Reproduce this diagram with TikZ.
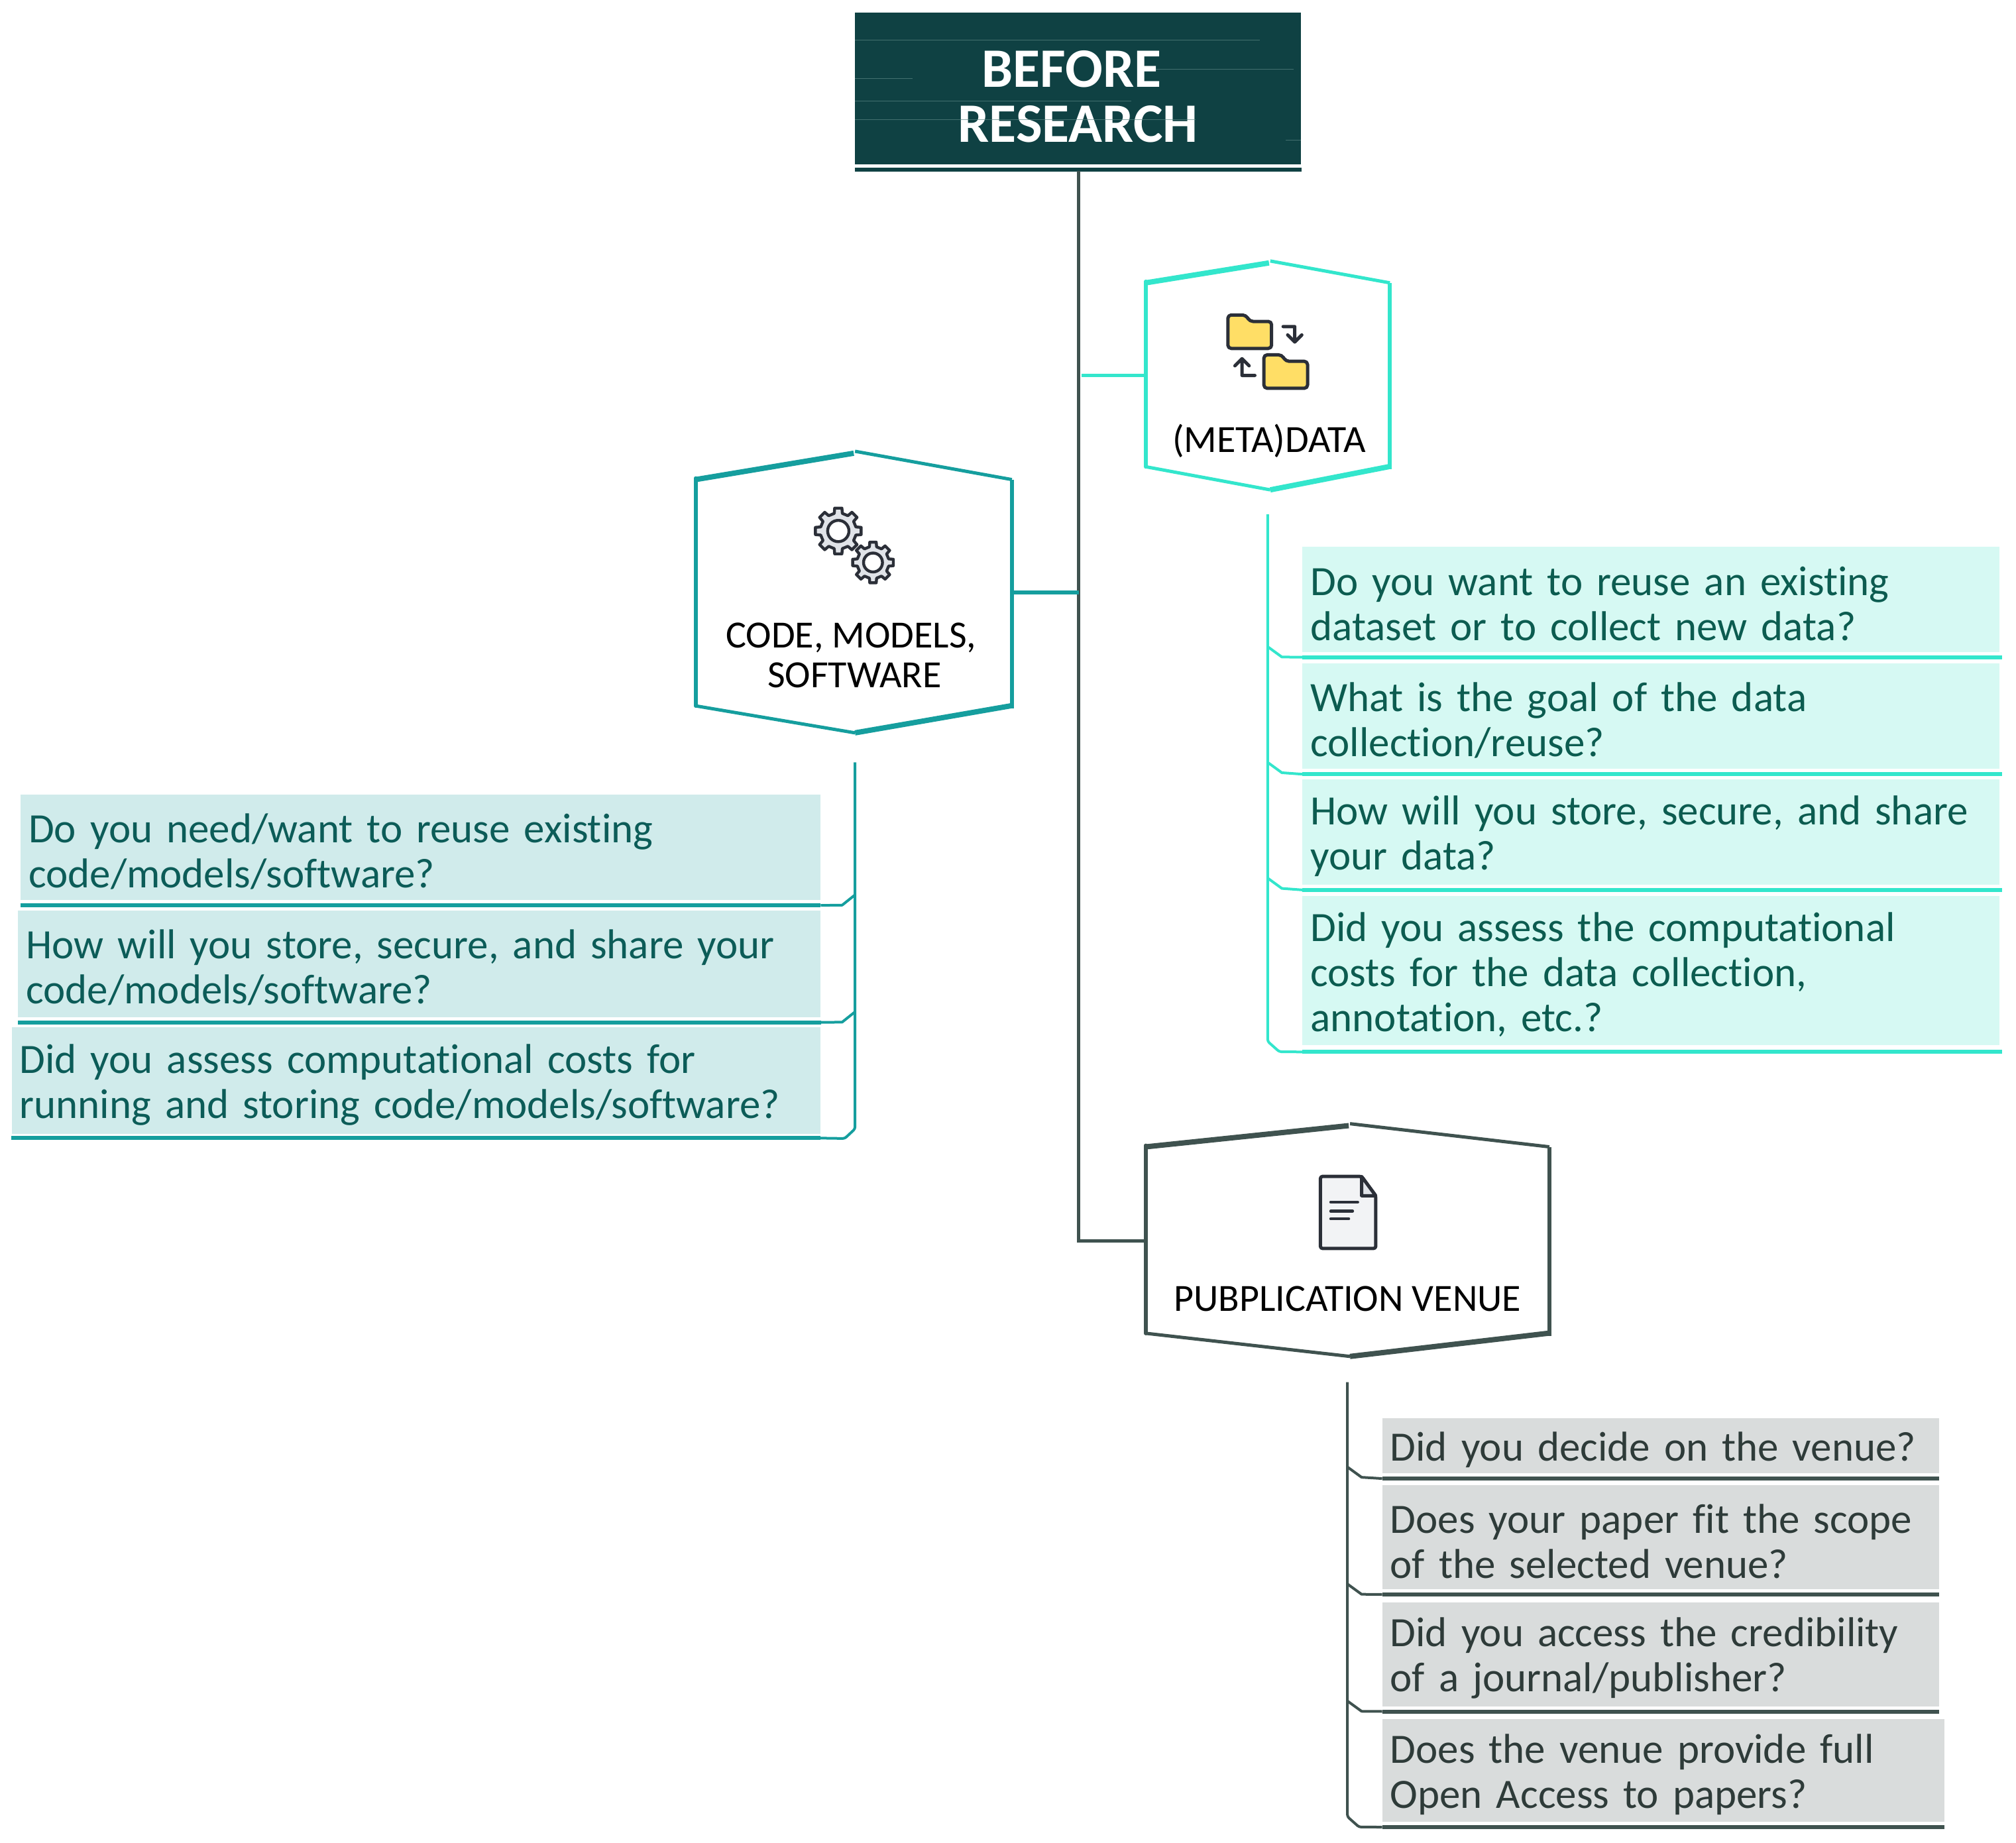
\documentclass[tikz,border=0pt]{standalone}
\usepackage{fontspec}
\setmainfont[Ligatures=NoCommon]{Carlito}
\usetikzlibrary{calc}
\definecolor{titlefill}{HTML}{0F4143}
\definecolor{streak}{HTML}{5A8583}
\definecolor{trunkc}{HTML}{3F524F}
\definecolor{codec}{HTML}{159E9E}
\definecolor{metac}{HTML}{33E6CC}
\definecolor{codebg}{HTML}{D0EBEB}
\definecolor{metabg}{HTML}{D6F9F3}
\definecolor{pubbg}{HTML}{D9DCDC}
\definecolor{qcode}{HTML}{0C5C58}
\definecolor{qmeta}{HTML}{0C5C50}
\definecolor{qpub}{HTML}{2E3B39}
\definecolor{inkc}{HTML}{2B2F38}
\definecolor{folderc}{HTML}{FFDE66}
\definecolor{gearc}{HTML}{E0E3E8}
\definecolor{docc}{HTML}{F2F3F5}
\tikzset{
  qbox/.style={anchor=north west,inner xsep=12pt,inner ysep=0pt,align=left,font=\fontsize{63}{68}\selectfont,execute at begin node={\rule{0pt}{56pt}}},
  hexlabel/.style={inner sep=0pt,align=center,text=black,font=\fontsize{58}{60}\selectfont},
  anchorbox/.style={inner sep=0pt,minimum width=#1,minimum height=10pt},
  icon/.style={draw=inkc,line width=5pt,line join=round,line cap=round},
  branch/.style={line width=4pt,line join=round},
  rule/.style={line width=6pt},
}
% left right centre-x apex-top shoulder-top shoulder-bottom apex-bottom colour
\newcommand{\sketchhex}[8]{%
  \draw[#8,line width=6pt,line cap=round] (#1,#5-1) -- (#1,#6);
  \draw[#8,line width=8pt] (#1,#5) -- (#3-1,#4+0.5);
  \draw[#8,line width=5pt] (#3,#4-1) -- (#2,#5);
  \draw[#8,line width=5.5pt] (#2,#5) -- (#2,#6+2);
  \draw[#8,line width=8pt] (#2-1,#6) -- (#3,#7);
  \draw[#8,line width=5pt] (#3,#7) -- (#1,#6);
}
\newcommand{\gearicon}[3]{% cx cy radius
  \draw[icon,fill=gearc,line width=4.4pt,shift={(#1,#2)}]
    (-13:#3*0.78) \foreach \a in {0,45,...,315}{
      -- (\a-13:#3*0.78) -- (\a-9:#3) -- (\a+9:#3) -- (\a+13:#3*0.78)
    } -- cycle;
  \draw[icon,fill=white,line width=4.4pt] (#1,#2) circle[radius=#3*0.46];
}
\newcommand{\foldericon}[2]{% left top
  \draw[icon,fill=folderc,rounded corners=5pt] (#1,#2) -- (#1+14,#2) -- (#1+17,#2+5) -- (#1+34,#2+5) -- (#1+34,#2+26) -- (#1,#2+26) -- cycle;
}
\begin{document}
\begin{tikzpicture}[x=1.94pt,y=-1.94pt]
\useasboundingbox (0,0) rectangle (1568,1433);

% title
\node[fill=titlefill,text=white,inner sep=0pt,minimum width=1.94*347pt,minimum height=1.94*118pt,align=center,font=\fontsize{84}{83}\bfseries\selectfont] (title) at (838.5,69) {\rule{0pt}{78pt}BEFORE\hspace*{20pt}\\RESEARCH};
\foreach \ya/\xa/\xb in {31/665/980, 54/899/1006, 61/665/710, 78.5/665/880, 93/665/930, 109/1000/1012}
  \draw[streak,line width=0.8pt,opacity=0.7] (\xa,\ya) -- (\xb,\ya);
\draw[titlefill,line width=6pt] ($(title.south west)+(0,4)$) -- ($(title.south east)+(0,4)$);

% hexagon anchors and labels
\node[anchorbox=190*1.94pt] (meta) at (986,292) {};
\node[anchorbox=246*1.94pt] (code) at (664,461) {};
\node[anchorbox=314*1.94pt] (pub) at (1048,965) {};

\coordinate (trunktop) at ($(title.south)+(0.5,5)$);
\coordinate (trunkmeta) at (trunktop |- meta.west);
\coordinate (trunkcode) at (trunktop |- code.east);
\coordinate (trunkpub) at (trunktop |- pub.west);
\draw[trunkc,line width=5pt] (trunktop) -- (trunkpub) -- (pub.west);
\draw[metac,line width=5pt] ($(trunkmeta)+(2,0)$) -- (meta.west);
\draw[codec,line width=6pt] (code.east) -- (trunkcode);

\sketchhex{891}{1081}{988}{204}{220}{363}{381}{metac}
\sketchhex{541}{787}{665}{352}{373}{549}{570}{codec}
\sketchhex{891}{1205}{1050}{875}{892}{1037}{1055}{trunkc}

\node[hexlabel] (metalabel) at (987,343) {(META)DATA};
\node[hexlabel] (codelabel) at (662,509.5) {CODE, MODELS,\\\hspace*{10pt}SOFTWARE};
\node[hexlabel] (publabel) at (1048,1010) {PUBPLICATION VENUE};

% icons
\foldericon{955}{245}
\foldericon{983}{276}
\draw[icon] (998,254) -- (1007,254) -- (1007,266) (1001.5,260.5) -- (1007,266) -- (1012.5,260.5);
\draw[icon] (976,292) -- (966,292) -- (966,279) (960.5,284.5) -- (966,279) -- (971.5,284.5);
\gearicon{652}{413}{18}
\gearicon{679}{437.5}{16}
\draw[icon,fill=docc,rounded corners=3pt] (1027,915) -- (1059,915) -- (1070,930) -- (1070,971) -- (1027,971) -- cycle;
\draw[icon,fill=gearc] (1059,915) -- (1059,930) -- (1070,930) -- cycle;
\draw[icon,line width=4.4pt] (1035,935) -- (1056,935) (1035,942) -- (1052,942) (1035,948) -- (1049,948);

% (meta)data questions
\begin{scope}[text=qmeta]
\node[qbox,fill=metabg,text width=1027pt,minimum height=159pt] (m1) at (1013,425) {Do you want to reuse an existing\\dataset or to collect new data?};
\node[qbox,fill=metabg,text width=1027pt,minimum height=159pt] (m2) at (1013,516) {What is the goal of the data\\collection/reuse?};
\node[qbox,fill=metabg,text width=1027pt,minimum height=159pt] (m3) at (1013,606) {How will you store, secure, and share\\your data?};
\node[qbox,fill=metabg,text width=1027pt,minimum height=225pt] (m4) at (1013,697) {Did you assess the computational\\costs for the data collection,\\annotation, etc.?};
\end{scope}
\coordinate (mtop) at (986,400);
\draw[metac,branch,rounded corners=3pt] (mtop) -- (986,810) -- (995,818) -- ($(m4.south west)+(0,5)$);
\draw[metac,rule] ($(m4.south west)+(0,5)$) -- ($(m4.south east)+(2,5)$);
\foreach \n/\j in {m1/503,m2/593,m3/683}{
  \draw[metac,branch] (986,\j) -- (997,\j+8) -- ($(\n.south west)+(0,4)$);
  \draw[metac,rule] ($(\n.south west)+(0,4)$) -- ($(\n.south east)+(2,4)$);
}

% code questions
\begin{scope}[text=qcode]
\node[qbox,fill=codebg,text width=1183pt,minimum height=159pt] (c1) at (16,618) {Do you need/want to reuse existing\\code/models/software?};
\node[qbox,fill=codebg,text width=1187pt,minimum height=161pt] (c2) at (14,708) {How will you store, secure, and share your\\code/models/software?};
\node[qbox,fill=codebg,text width=1196pt,minimum height=161pt] (c3) at (9,799) {Did you assess computational costs for\\running and storing code/models/software?};
\end{scope}
\coordinate (ctop) at (665,593);
\draw[codec,branch,rounded corners=3pt] (ctop) -- (665,878) -- (657,885.5) -- ($(c3.south east)+(0,3)$);
\draw[codec,rule] ($(c3.south west)+(0,3)$) -- ($(c3.south east)+(0,3)$);
\draw[codec,branch] (665,696) -- (655,704) -- ($(c1.south east)+(0,4)$);
\draw[codec,rule] ($(c1.south west)+(0,4)$) -- ($(c1.south east)+(0,4)$);
\draw[codec,branch] (665,787) -- (655,795) -- ($(c2.south east)+(0,4)$);
\draw[codec,rule] ($(c2.south west)+(0,4)$) -- ($(c2.south east)+(0,4)$);

% venue questions
\begin{scope}[text=qpub]
\node[qbox,fill=pubbg,text width=816pt,minimum height=83pt] (p1) at (1075,1103) {Did you decide on the venue?};
\node[qbox,fill=pubbg,text width=816pt,minimum height=157pt] (p2) at (1075,1155) {Does your paper fit the scope\\of the selected venue?};
\node[qbox,fill=pubbg,text width=816pt,minimum height=157pt] (p3) at (1075,1246) {Did you access the credibility\\of a journal/publisher?};
\node[qbox,fill=pubbg,text width=824pt,minimum height=155pt] (p4) at (1075,1337) {Does the venue provide full\\Open Access to papers?};
\end{scope}
\coordinate (ptop) at (1048,1075);
\draw[trunkc,branch,rounded corners=3pt] (ptop) -- (1048,1413) -- (1057,1421) -- ($(p4.south west)+(0,4)$);
\draw[trunkc,rule] ($(p4.south west)+(0,4)$) -- ($(p4.south east)+(0,4)$);
\foreach \n/\j in {p1/1141,p2/1232,p3/1323}{
  \draw[trunkc,branch] (1048,\j) -- (1059,\j+8) -- ($(\n.south west)+(0,4)$);
  \draw[trunkc,rule] ($(\n.south west)+(0,4)$) -- ($(\n.south east)+(0,4)$);
}
\end{tikzpicture}
\end{document}
